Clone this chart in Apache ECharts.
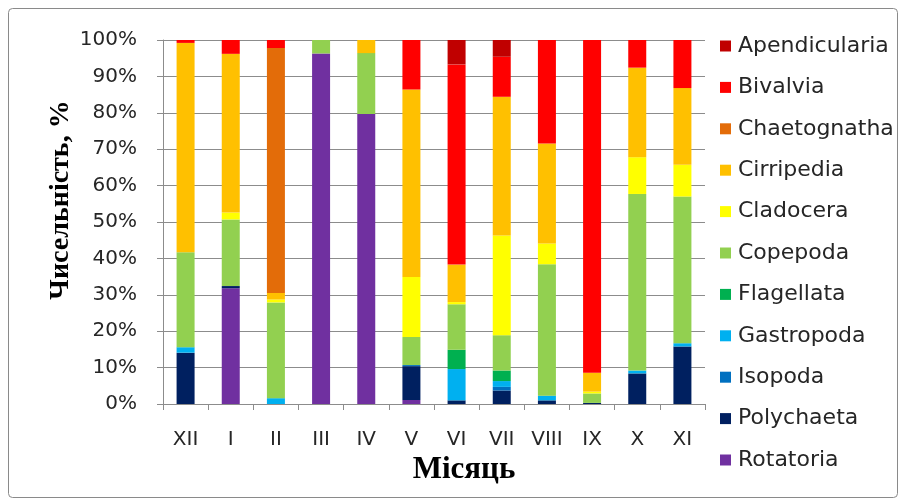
<!DOCTYPE html>
<html>
<head>
<meta charset="utf-8">
<script src="https://cdn.jsdelivr.net/npm/echarts@6/dist/echarts.min.js"></script>
<style>
  html, body { margin: 0; padding: 0; background: #ffffff; }
  #chart { width: 906px; height: 500px; }
</style>
</head>
<body>
<div id="chart"></div>
<script>
// Months (winter to autumn)
const months = ['XII', 'I', 'II', 'III', 'IV', 'V', 'VI', 'VII', 'VIII', 'IX', 'X', 'XI'];

// Share of each group per month, % (stacked bottom to top)
const rotatoria     = [0, 31.8, 0, 96.3, 79.7, 1.1, 0, 0, 0, 0, 0, 0];
const polychaeta    = [14.1, 0.6, 0, 0, 0, 9.3, 1.0, 3.7, 1.0, 0.3, 8.4, 15.8];
const isopoda       = [0, 0, 0, 0, 0, 0.3, 0, 1.0, 0, 0, 0, 0];
const gastropoda    = [1.5, 0, 1.6, 0, 0, 0, 8.6, 1.6, 1.3, 0, 0.8, 0.9];
const flagellata    = [0, 0, 0, 0, 0, 0, 5.3, 2.9, 0, 0, 0, 0];
const copepoda      = [26.1, 18.3, 26.3, 3.7, 16.7, 7.7, 12.5, 9.7, 36.1, 2.6, 48.5, 40.3];
const cladocera     = [0, 1.9, 0.8, 0, 0, 16.5, 0.6, 27.4, 5.7, 0.5, 10.1, 8.7];
const cirripedia    = [57.5, 43.6, 1.8, 0, 3.6, 51.5, 10.3, 38.1, 27.5, 5.2, 24.6, 21.1];
const chaetognatha  = [0, 0, 67.3, 0, 0, 0, 0, 0, 0, 0, 0, 0];
const bivalvia      = [0.8, 3.8, 2.2, 0, 0, 13.6, 55.0, 11.0, 28.4, 91.4, 7.6, 13.2];
const apendicularia = [0, 0, 0, 0, 0, 0, 6.7, 4.6, 0, 0, 0, 0];

// Y axis ticks
const yMin = 0, yMax = 100, yStep = 10;

const groups = [
  { name: 'Rotatoria',     data: rotatoria,     color: '#7030A0' },
  { name: 'Polychaeta',    data: polychaeta,    color: '#002060' },
  { name: 'Isopoda',       data: isopoda,       color: '#0070C0' },
  { name: 'Gastropoda',    data: gastropoda,    color: '#00B0F0' },
  { name: 'Flagellata',    data: flagellata,    color: '#00B050' },
  { name: 'Copepoda',      data: copepoda,      color: '#92D050' },
  { name: 'Cladocera',     data: cladocera,     color: '#FFFF00' },
  { name: 'Cirripedia',    data: cirripedia,    color: '#FFC000' },
  { name: 'Chaetognatha',  data: chaetognatha,  color: '#E36C09' },
  { name: 'Bivalvia',      data: bivalvia,      color: '#FF0000' },
  { name: 'Apendicularia', data: apendicularia, color: '#C00000' }
];

const labelFont = 'DejaVu Sans';
const titleFont = 'Liberation Serif';
const gridColor = '#8c8c8c';
const textColor = '#262626';

const chart = echarts.init(document.getElementById('chart'), null, { renderer: 'canvas' });

chart.setOption({
  backgroundColor: '#ffffff',
  animation: false,
  graphic: [
    {
      type: 'rect',
      shape: { x: 8.5, y: 8.5, width: 889, height: 489, r: 4 },
      style: { fill: 'none', stroke: '#8a8a8a', lineWidth: 1 },
      silent: true,
      z: -1
    },
    {
      // y axis title
      type: 'text',
      x: 61,
      y: 200,
      rotation: Math.PI / 2,
      style: {
        text: 'Чисельність, %',
        font: 'bold 28px "' + titleFont + '"',
        fill: '#000000',
        align: 'center',
        verticalAlign: 'middle'
      },
      silent: true
    },
    {
      // x axis title
      type: 'text',
      x: 464,
      y: 470,
      style: {
        text: 'Місяць',
        font: 'bold 31px "' + titleFont + '"',
        fill: '#000000',
        align: 'center',
        verticalAlign: 'middle'
      },
      silent: true
    }
  ],
  grid: { left: 163, top: 40, width: 542, height: 364, containLabel: false },
  legend: {
    orient: 'vertical',
    left: 720,
    top: 34,
    padding: 0,
    itemWidth: 11,
    itemHeight: 11,
    itemGap: 17.4,
    icon: 'rect',
    data: groups.map(g => g.name).reverse(),
    textStyle: { fontFamily: labelFont, fontSize: 22, color: textColor, lineHeight: 24, padding: [0, 0, 0, 2] }
  },
  xAxis: {
    type: 'category',
    data: months,
    axisLine: { lineStyle: { color: gridColor, width: 1 } },
    axisTick: { show: true, length: 6, lineStyle: { color: gridColor } },
    axisLabel: { fontFamily: labelFont, fontSize: 20, color: textColor, margin: 26 }
  },
  yAxis: {
    type: 'value',
    min: yMin,
    max: yMax,
    interval: yStep,
    axisLine: { show: true, lineStyle: { color: gridColor, width: 1 } },
    axisTick: { show: true, length: 6, lineStyle: { color: gridColor } },
    axisLabel: { fontFamily: labelFont, fontSize: 20, color: textColor, margin: 26, formatter: '{value}%' },
    splitLine: { show: true, lineStyle: { color: gridColor, width: 1 } }
  },
  series: groups.map(g => ({
    name: g.name,
    type: 'bar',
    stack: 'total',
    data: g.data,
    barWidth: 18,
    itemStyle: { color: g.color },
    emphasis: { disabled: true }
  }))
});
</script>
</body>
</html>
